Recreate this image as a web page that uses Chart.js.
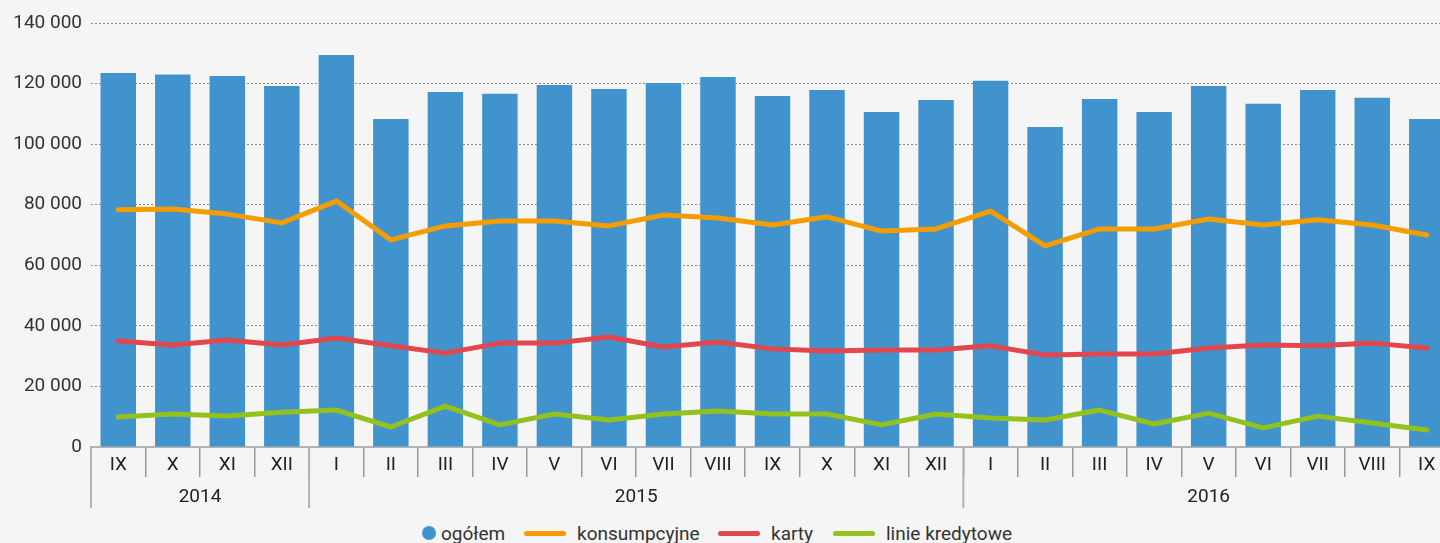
<!DOCTYPE html>
<html>
<head>
<meta charset="utf-8">
<script src="https://cdn.jsdelivr.net/npm/chart.js@4.4.1/dist/chart.umd.min.js"></script>
<style>
  html, body { margin: 0; padding: 0; background: #f5f5f5; width: 1440px; height: 543px; overflow: hidden; }
  #wrap { position: absolute; left: 0; top: 0; width: 1454px; height: 515px; }
  .leg { position: absolute; top: 522px; height: 22px; display: flex; align-items: center; font: 19px Roboto, sans-serif; color: #333; white-space: nowrap; }
  .dot { width: 14px; height: 14px; border-radius: 50%; margin-right: 5px; }
  .ln { width: 42px; height: 5px; border-radius: 3px; margin-right: 11px; }
</style>
</head>
<body>
<div id="wrap"><canvas id="chart" width="1454" height="515"></canvas></div>
<div id="legend"></div>
<script>
const months = ['IX','X','XI','XII','I','II','III','IV','V','VI','VII','VIII','IX','X','XI','XII','I','II','III','IV','V','VI','VII','VIII','IX'];
const years = ['2014', '2015', '2016'];
const yearSizes = [4, 12, 9];

const ogolem = [123500,123000,122500,119200,129400,108300,117200,116600,119500,118200,120200,122200,
                115900,117900,110600,114600,120900,105700,114900,110600,119200,113300,117900,115300,108300];
const konsumpcyjne = [78300,78600,76900,74000,81200,68400,73000,74600,74600,73000,76600,75600,
                      73300,76000,71300,72000,77900,66400,72000,72000,75300,73300,75000,73300,70000];
const karty = [35000,33700,35300,33700,36000,33400,31000,34300,34300,36300,33000,34700,
               32400,31700,32000,32000,33400,30400,30700,30700,32700,33700,33400,34300,32700];
const linie = [9900,10900,10200,11500,12200,6600,13500,7300,10900,8900,10900,11900,
               10900,10900,7300,10900,9600,8900,12200,7600,11200,6300,10200,7900,5600];

const colors = { ogolem: '#4093cd', konsumpcyjne: '#f59d00', karty: '#e3474e', linie: '#93c11d' };
const font = "Roboto, sans-serif";

function lineSet(label, data, color, order) {
    return {
        type: 'line',
        label: label,
        data: data,
        borderColor: color,
        backgroundColor: color,
        borderWidth: 5,
        pointRadius: 0,
        borderCapStyle: 'round',
        borderJoinStyle: 'round',
        tension: 0,
        order: order
    };
}

// podpisy lat pod miesiącami
const yearAxis = {
    id: 'yearAxis',
    afterDraw(chart) {
        const x = chart.scales.x;
        const c = chart.ctx;
        const half = (x.getPixelForValue(1) - x.getPixelForValue(0)) / 2;
        const bottom = chart.chartArea.bottom;
        let start = 0;
        c.save();
        c.strokeStyle = '#b3b3b3';
        c.lineWidth = 2;
        c.fillStyle = '#222';
        c.font = '19px ' + font;
        c.textAlign = 'center';
        c.textBaseline = 'middle';
        years.forEach((y, i) => {
            const left = x.getPixelForValue(start) - half;
            const right = x.getPixelForValue(start + yearSizes[i] - 1) + half;
            c.beginPath();
            c.moveTo(left, bottom);
            c.lineTo(left, bottom + 61);
            c.stroke();
            c.fillText(y, (left + right) / 2, bottom + 50);
            start += yearSizes[i];
        });
        c.restore();
    }
};

const ctx = document.getElementById('chart').getContext('2d');
new Chart(ctx, {
    data: {
        labels: months,
        datasets: [
            { type: 'bar', label: 'ogółem', data: ogolem, backgroundColor: colors.ogolem,
              barPercentage: 0.65, categoryPercentage: 1, order: 4 },
            lineSet('konsumpcyjne', konsumpcyjne, colors.konsumpcyjne, 1),
            lineSet('karty', karty, colors.karty, 2),
            lineSet('linie kredytowe', linie, colors.linie, 3)
        ]
    },
    options: {
        responsive: false,
        animation: false,
        layout: { padding: { top: 23, left: 0, right: 0, bottom: 0 } },
        plugins: { legend: { display: false }, tooltip: { enabled: false } },
        scales: {
            x: {
                offset: true,
                grid: { offset: true, drawOnChartArea: false, tickLength: 30, color: '#999', lineWidth: 1.5 },
                border: { color: '#b3b3b3', width: 2 },
                ticks: { color: '#222', font: { family: font, size: 19 }, padding: -23, maxRotation: 0, autoSkip: false },
                afterFit(scale) { scale.height = 68; }
            },
            y: {
                min: 0,
                max: 140000,
                border: { display: false, dash: [2, 2] },
                grid: { color: '#8c8c8c', drawTicks: false },
                ticks: {
                    stepSize: 20000,
                    padding: 9,
                    color: '#333',
                    font: { family: font, size: 19 },
                    callback: v => v.toLocaleString('en-US').replace(/,/g, ' ')
                },
                afterFit(scale) { scale.width = 91; }
            }
        }
    },
    plugins: [yearAxis]
});

// legenda
const legendItems = [
    { label: 'ogółem', color: colors.ogolem, kind: 'dot', left: 422 },
    { label: 'konsumpcyjne', color: colors.konsumpcyjne, kind: 'ln', left: 524 },
    { label: 'karty', color: colors.karty, kind: 'ln', left: 718 },
    { label: 'linie kredytowe', color: colors.linie, kind: 'ln', left: 833 }
];
const legend = document.getElementById('legend');
legendItems.forEach(item => {
    const div = document.createElement('div');
    div.className = 'leg';
    div.style.left = item.left + 'px';
    const sw = document.createElement('span');
    sw.className = item.kind;
    sw.style.background = item.color;
    const txt = document.createElement('span');
    txt.textContent = item.label;
    div.appendChild(sw);
    div.appendChild(txt);
    legend.appendChild(div);
});
</script>
</body>
</html>
